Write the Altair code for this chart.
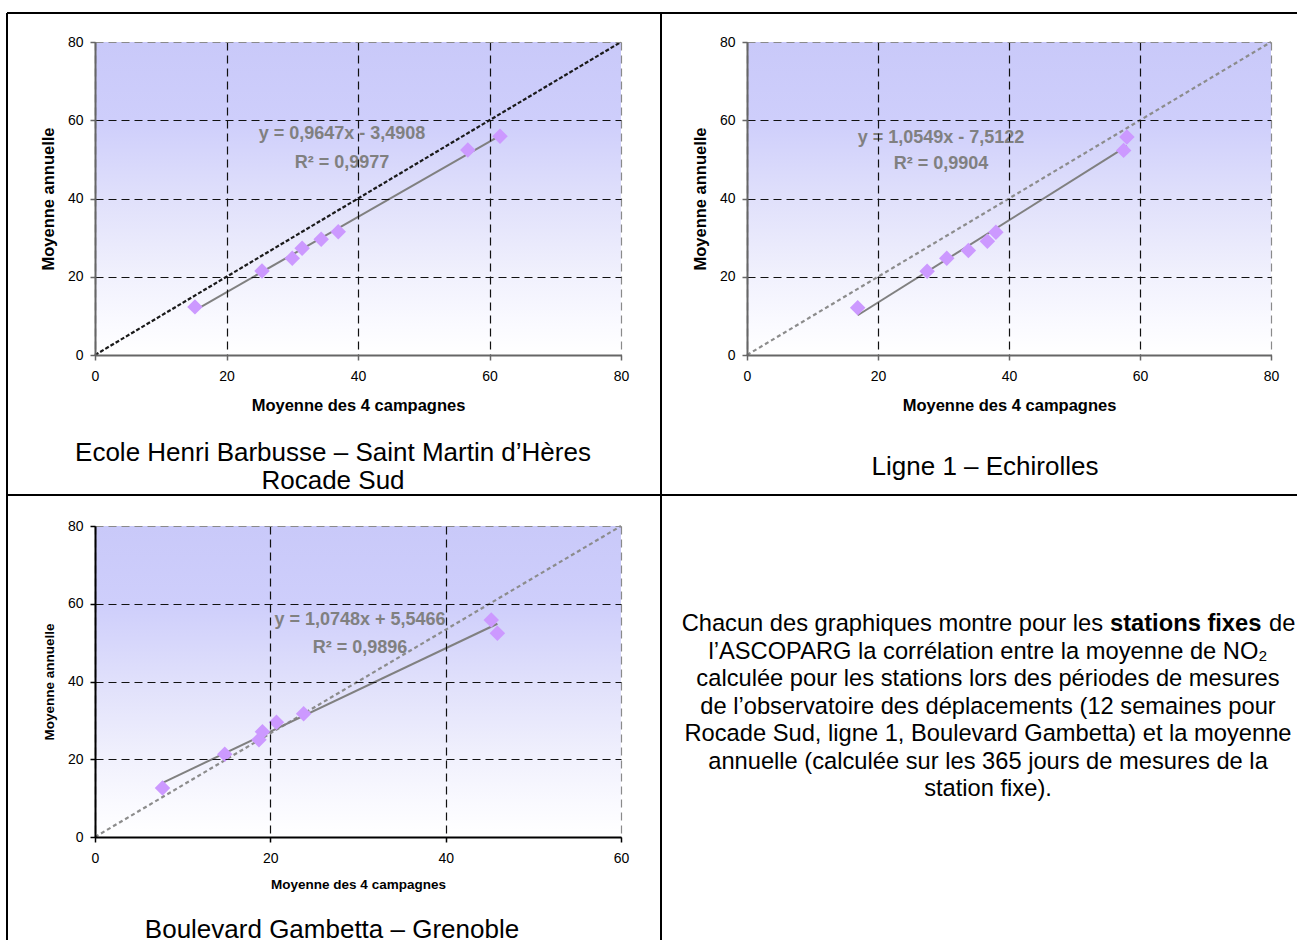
import altair as alt
import pandas as pd

FONT = "Liberation Sans"

# ---- data ----
p1_x = [15.2, 25.4, 30.0, 31.5, 34.4, 37.0, 56.7, 61.6]
p1_y = [12.3, 21.5, 24.7, 27.3, 29.6, 31.5, 52.4, 55.9]
p2_x = [16.9, 27.5, 30.5, 33.8, 36.7, 38.0, 57.5, 58.0]
p2_y = [12.1, 21.4, 24.7, 26.7, 29.1, 31.4, 52.3, 55.7]
p3_x = [7.7, 14.8, 18.7, 19.1, 20.7, 23.8, 45.2, 45.9]
p3_y = [12.6, 21.3, 25.0, 27.1, 29.5, 31.7, 55.8, 52.4]

x_max = [80, 80, 60]
y_max = [80, 80, 80]
x_ticks = [[0, 20, 40, 60, 80], [0, 20, 40, 60, 80], [0, 20, 40, 60]]
y_ticks = [0, 20, 40, 60, 80]

equations = ["y = 0,9647x - 3,4908", "y = 1,0549x - 7,5122", "y = 1,0748x + 5,5466"]
r2_texts = ["R² = 0,9977", "R² = 0,9904", "R² = 0,9896"]
captions = [
    ["Ecole Henri Barbusse – Saint Martin d’Hères", "Rocade Sud"],
    ["Ligne 1 – Echirolles"],
    ["Boulevard Gambetta – Grenoble"],
]
x_title = "Moyenne des 4 campagnes"
y_title = "Moyenne annuelle"

para_first = ["Chacun des graphiques montre pour les", "stations fixes", "de"]
para_rest = [
    "l’ASCOPARG la corrélation entre la moyenne de NO₂",
    "calculée pour les stations lors des périodes de mesures",
    "de l’observatoire des déplacements (12 semaines pour",
    "Rocade Sud, ligne 1, Boulevard Gambetta) et la moyenne",
    "annuelle (calculée sur les 365 jours de mesures de la",
    "station fixe).",
]

one = pd.DataFrame({"k": [0]})

GRADIENT = {
    "gradient": "linear", "x1": 0, "y1": 0, "x2": 0, "y2": 1,
    "stops": [
        {"offset": 0.0, "color": "#c9c9f9"},
        {"offset": 0.25, "color": "#cecefb"},
        {"offset": 0.5, "color": "#e0e0fb"},
        {"offset": 0.75, "color": "#f1f1fd"},
        {"offset": 0.9, "color": "#fafaff"},
        {"offset": 1.0, "color": "#ffffff"},
    ],
}


def panel(xs, ys, xmax, ymax, xt, eq, r2t, cap, w, h, eqpos, cappos,
          diag_color, diag_dash, axis_color, tfs, extra=None):
    df = pd.DataFrame({"x": xs, "y": ys})
    diag = pd.DataFrame({"x": [0, xmax], "y": [0, ymax]})
    gcx = {"condition": {"test": f"datum.value === {xmax}", "value": "#8a8a8a"}, "value": "#111111"}
    gcy = {"condition": {"test": f"datum.value === {ymax}", "value": "#8a8a8a"}, "value": "#111111"}
    xenc = alt.X("x:Q", scale=alt.Scale(domain=[0, xmax], nice=False),
                 axis=alt.Axis(values=xt, title=x_title, grid=True, gridDash=[8, 5],
                               gridColor=gcx, gridWidth=1.2, domainColor=axis_color,
                               domainWidth=2, tickColor=axis_color, tickSize=5,
                               tickWidth=1.5, labelFontSize=14, labelPadding=9,
                               labelFlush=False, labelOverlap=False,
                               titleFontSize=tfs, titlePadding=14 if tfs > 15 else 12,
                               zindex=1))
    yenc = alt.Y("y:Q", scale=alt.Scale(domain=[0, ymax], nice=False),
                 axis=alt.Axis(values=y_ticks, title=y_title, grid=True, gridDash=[8, 5],
                               gridColor=gcy, gridWidth=1.2, domainColor=axis_color,
                               domainWidth=2, tickColor=axis_color, tickSize=5,
                               tickWidth=1.5, labelFontSize=14, labelPadding=7,
                               labelFlush=False, labelOverlap=False,
                               titleFontSize=tfs, titlePadding=11, zindex=1))

    bg = alt.Chart(one).mark_rect(fill=GRADIENT).encode(
        x=alt.value(0), x2=alt.value(w), y=alt.value(0), y2=alt.value(h))
    dl = alt.Chart(diag).mark_line(color=diag_color, strokeDash=diag_dash, strokeWidth=2.2).encode(
        x=xenc, y=yenc)
    reg = alt.Chart(df).transform_regression("x", "y").mark_line(
        color="#808080", strokeWidth=2).encode(x=xenc, y=yenc)
    pts = alt.Chart(df).mark_point(shape="diamond", filled=True, size=240,
                                   color="#cc99ff", opacity=1).encode(x=xenc, y=yenc)
    t1 = alt.Chart(one).mark_text(fontSize=18, fontWeight="bold", color="#808080",
                                  baseline="middle", align="center").encode(
        x=alt.value(eqpos[0]), y=alt.value(eqpos[1]), text=alt.value(eq))
    t2 = alt.Chart(one).mark_text(fontSize=18, fontWeight="bold", color="#808080",
                                  baseline="middle", align="center").encode(
        x=alt.value(eqpos[0]), y=alt.value(eqpos[2]), text=alt.value(r2t))
    ct = alt.Chart(one).mark_text(fontSize=26, color="#000000", baseline="top",
                                  align="center", lineHeight=28).encode(
        x=alt.value(cappos[0]), y=alt.value(cappos[1]), text=alt.value(cap))
    layers = [bg, dl, reg, pts, t1, t2, ct]
    if extra:
        layers += extra
    return alt.layer(*layers).properties(width=w, height=h)


# table borders (decoration), relative to the first panel's plot origin
def hrule(x1, x2, y):
    return alt.Chart(one).mark_rule(color="#000000", strokeWidth=2).encode(
        x=alt.value(x1), x2=alt.value(x2), y=alt.value(y))


def vrule(x, y1, y2):
    return alt.Chart(one).mark_rule(color="#000000", strokeWidth=2).encode(
        x=alt.value(x), y=alt.value(y1), y2=alt.value(y2))


borders = [hrule(-88, 1202, -29), hrule(-88, 1202, 453),
           vrule(-88, -29, 898), vrule(566, -29, 898)]

p1 = panel(p1_x, p1_y, x_max[0], y_max[0], x_ticks[0], equations[0], r2_texts[0],
           captions[0], 526, 313, (247, 92, 121), (238, 398), "#1a1a1a", [4, 2],
           "#666666", 16.5, extra=borders)
p2 = panel(p2_x, p2_y, x_max[1], y_max[1], x_ticks[1], equations[1], r2_texts[1],
           captions[1], 524, 313, (194, 96, 122), (238, 412), "#8c8c8c", [4, 3],
           "#666666", 16.5)
p3 = panel(p3_x, p3_y, x_max[2], y_max[2], x_ticks[2], equations[2], r2_texts[2],
           captions[2], 526, 311, (265, 94, 122), (237, 391), "#8c8c8c", [4, 3],
           "#000000", 13.5)

pf = 23.7
l1a = alt.Chart(one).mark_text(fontSize=pf, align="right", baseline="middle").encode(
    x=alt.value(356), y=alt.value(98), text=alt.value(para_first[0]))
l1b = alt.Chart(one).mark_text(fontSize=pf, fontWeight="bold", align="left", baseline="middle").encode(
    x=alt.value(363), y=alt.value(98), text=alt.value(para_first[1]))
l1c = alt.Chart(one).mark_text(fontSize=pf, align="left", baseline="middle").encode(
    x=alt.value(522), y=alt.value(98), text=alt.value(para_first[2]))
rest = alt.Chart(one).mark_text(fontSize=pf, align="center", baseline="top", lineHeight=27.4).encode(
    x=alt.value(241), y=alt.value(114), text=alt.value(para_rest))
p4 = alt.layer(l1a, l1b, l1c, rest).properties(width=524, height=311)

chart = alt.concat(p1, p2, p3, p4, columns=2, spacing={"row": 171, "column": 126},
                   bounds="flush").properties(
    padding={"left": 6, "top": 12, "right": 0, "bottom": 0}
).configure_view(strokeWidth=0).configure_axis(
    labelFont=FONT, titleFont=FONT, labelColor="#000000", titleColor="#000000",
    titleFontWeight="bold"
).configure_text(font=FONT)

chart.save("out.html", embed_options={"renderer": "svg", "actions": False})
